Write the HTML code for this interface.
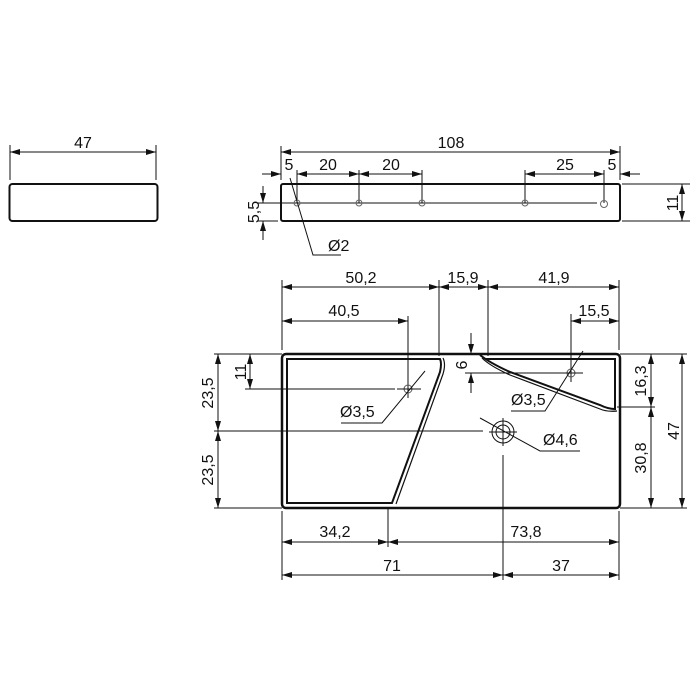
<!DOCTYPE html>
<html><head><meta charset="utf-8"><style>body{margin:0;background:#fff}svg{display:block}text{font-family:"Liberation Sans",sans-serif;font-size:16px;fill:#111}</style></head><body>
<svg width="700" height="700" viewBox="0 0 700 700" xmlns="http://www.w3.org/2000/svg">
<defs><marker id="a" viewBox="0 0 10 6" refX="10" refY="3" markerWidth="10" markerHeight="6" orient="auto-start-reverse" markerUnits="userSpaceOnUse"><path d="M0,0L10,3L0,6Z" fill="#111"/></marker></defs>
<g stroke="#111" fill="none" stroke-width="1">
<!-- left view -->
<rect x="9.5" y="184" width="148" height="37" rx="3" stroke-width="2"/>
<line x1="10" y1="145" x2="10" y2="180"/><line x1="156" y1="145" x2="156" y2="180"/>
<line x1="10" y1="152" x2="156" y2="152" marker-start="url(#a)" marker-end="url(#a)"/>
<!-- top view -->
<rect x="281" y="184" width="339" height="37" rx="2" stroke-width="2"/>
<line x1="281" y1="146" x2="281" y2="180"/><line x1="620" y1="146" x2="620" y2="180"/>
<line x1="281" y1="152" x2="620" y2="152" marker-start="url(#a)" marker-end="url(#a)"/>
<line x1="297" y1="170" x2="297" y2="203"/><line x1="359" y1="170" x2="359" y2="203"/><line x1="422" y1="170" x2="422" y2="203"/><line x1="525" y1="170" x2="525" y2="203"/><line x1="604" y1="170" x2="604" y2="203"/>
<line x1="262" y1="174" x2="281" y2="174" marker-end="url(#a)"/>
<line x1="297" y1="174" x2="359" y2="174" marker-start="url(#a)" marker-end="url(#a)"/>
<line x1="359" y1="174" x2="422" y2="174" marker-start="url(#a)" marker-end="url(#a)"/>
<line x1="525" y1="174" x2="604" y2="174" marker-start="url(#a)" marker-end="url(#a)"/>
<line x1="640" y1="174" x2="620" y2="174" marker-end="url(#a)"/>
<line x1="258" y1="203" x2="597" y2="203"/>
<g stroke="#666"><circle cx="297" cy="203" r="3"/><circle cx="359" cy="203" r="3"/><circle cx="422" cy="203" r="3"/><circle cx="525" cy="203" r="3"/><circle cx="604" cy="204" r="3.5"/></g>
<line x1="258" y1="221" x2="278" y2="221"/>
<line x1="263" y1="186" x2="263" y2="203" marker-end="url(#a)"/>
<line x1="263" y1="240" x2="263" y2="221" marker-end="url(#a)"/>
<line x1="622" y1="184" x2="690" y2="184"/><line x1="622" y1="221" x2="690" y2="221"/>
<line x1="682" y1="184" x2="682" y2="221" marker-start="url(#a)" marker-end="url(#a)"/>
<polyline points="290,178 313,255 341,255"/>
<!-- main view -->
<rect x="282" y="354" width="338" height="154" rx="4" stroke-width="2.5"/>
<path d="M287,359 H440 Q442,363 440,372 L392,503 H287 Z" stroke-width="2"/>
<path d="M443,358 Q446,364 443,374 L396,504" stroke-width="1.2"/>
<path d="M480,355 Q490,363 510,372 L600,405 Q608,409 615,409 V359 H486" stroke-width="2"/>
<path d="M482,358 Q490,366 510,375 L600,409 Q607,412 617,411" stroke-width="1.2"/>
<!-- top dims -->
<line x1="282" y1="280" x2="282" y2="350"/><line x1="439" y1="280" x2="439" y2="356"/><line x1="488" y1="280" x2="488" y2="356"/><line x1="619" y1="280" x2="619" y2="350"/>
<line x1="282" y1="287" x2="439" y2="287" marker-start="url(#a)" marker-end="url(#a)"/>
<line x1="439" y1="287" x2="488" y2="287" marker-start="url(#a)" marker-end="url(#a)"/>
<line x1="488" y1="287" x2="619" y2="287" marker-start="url(#a)" marker-end="url(#a)"/>
<line x1="408" y1="316" x2="408" y2="398"/>
<line x1="282" y1="321" x2="408" y2="321" marker-start="url(#a)" marker-end="url(#a)"/>
<line x1="571" y1="314" x2="571" y2="382"/>
<line x1="571" y1="321" x2="619" y2="321" marker-start="url(#a)" marker-end="url(#a)"/>
<!-- holes -->
<circle cx="408" cy="389" r="4" stroke="#555"/><line x1="397" y1="389" x2="421" y2="389"/>
<polyline points="425,371 382,423 341,423"/>
<circle cx="571" cy="373" r="4" stroke="#555"/><line x1="560" y1="373" x2="583" y2="373"/>
<polyline points="583,351 545,411 511,411"/>
<line x1="465" y1="373" x2="560" y2="373"/>
<line x1="471" y1="333" x2="471" y2="354" marker-end="url(#a)"/>
<line x1="471" y1="393" x2="471" y2="373" marker-end="url(#a)"/>
<circle cx="503" cy="432" r="11"/><circle cx="503" cy="432" r="7"/>
<line x1="503" y1="418" x2="503" y2="446"/><line x1="489" y1="432" x2="517" y2="432"/>
<polyline points="480,418 540,451 580,451"/>
<line x1="503" y1="455" x2="503" y2="580"/>
<!-- left dims -->
<line x1="214" y1="354" x2="282" y2="354"/><line x1="214" y1="508" x2="282" y2="508"/>
<line x1="214" y1="431" x2="483" y2="431"/>
<line x1="218" y1="354" x2="218" y2="431" marker-start="url(#a)" marker-end="url(#a)"/>
<line x1="218" y1="431" x2="218" y2="508" marker-start="url(#a)" marker-end="url(#a)"/>
<line x1="245" y1="389" x2="395" y2="389"/>
<line x1="250" y1="354" x2="250" y2="389" marker-start="url(#a)" marker-end="url(#a)"/>
<!-- right dims -->
<line x1="620" y1="354" x2="687" y2="354"/><line x1="620" y1="508" x2="687" y2="508"/>
<line x1="617" y1="407" x2="655" y2="407"/>
<line x1="651" y1="354" x2="651" y2="407" marker-start="url(#a)" marker-end="url(#a)"/>
<line x1="651" y1="407" x2="651" y2="508" marker-start="url(#a)" marker-end="url(#a)"/>
<line x1="682" y1="354" x2="682" y2="508" marker-start="url(#a)" marker-end="url(#a)"/>
<!-- bottom dims -->
<line x1="282" y1="511" x2="282" y2="580"/><line x1="619" y1="511" x2="619" y2="580"/><line x1="388" y1="508" x2="388" y2="547"/>
<line x1="282" y1="542" x2="388" y2="542" marker-start="url(#a)" marker-end="url(#a)"/>
<line x1="388" y1="542" x2="619" y2="542" marker-start="url(#a)" marker-end="url(#a)"/>
<line x1="282" y1="575" x2="503" y2="575" marker-start="url(#a)" marker-end="url(#a)"/>
<line x1="503" y1="575" x2="619" y2="575" marker-start="url(#a)" marker-end="url(#a)"/>
</g>
<text x="83" y="148" text-anchor="middle">47</text>
<text x="451" y="148" text-anchor="middle">108</text>
<text x="289" y="170" text-anchor="middle">5</text>
<text x="328" y="170" text-anchor="middle">20</text>
<text x="391" y="170" text-anchor="middle">20</text>
<text x="565" y="170" text-anchor="middle">25</text>
<text x="612" y="170" text-anchor="middle">5</text>
<text x="328" y="251">Ø2</text>
<text transform="translate(259,212) rotate(-90)" text-anchor="middle">5,5</text>
<text transform="translate(678,203) rotate(-90)" text-anchor="middle">11</text>
<text x="361" y="283" text-anchor="middle">50,2</text>
<text x="463" y="283" text-anchor="middle">15,9</text>
<text x="554" y="283" text-anchor="middle">41,9</text>
<text x="344" y="316" text-anchor="middle">40,5</text>
<text x="594" y="316" text-anchor="middle">15,5</text>
<text x="340" y="417">Ø3,5</text>
<text x="511" y="405">Ø3,5</text>
<text x="543" y="445">Ø4,6</text>
<text transform="translate(467,365) rotate(-90)" text-anchor="middle">6</text>
<text transform="translate(213,393) rotate(-90)" text-anchor="middle">23,5</text>
<text transform="translate(213,470) rotate(-90)" text-anchor="middle">23,5</text>
<text transform="translate(246,372) rotate(-90)" text-anchor="middle">11</text>
<text transform="translate(646,381) rotate(-90)" text-anchor="middle">16,3</text>
<text transform="translate(646,458) rotate(-90)" text-anchor="middle">30,8</text>
<text transform="translate(679,431) rotate(-90)" text-anchor="middle">47</text>
<text x="335" y="537" text-anchor="middle">34,2</text>
<text x="526" y="537" text-anchor="middle">73,8</text>
<text x="392" y="571" text-anchor="middle">71</text>
<text x="561" y="571" text-anchor="middle">37</text>
</svg>
</body></html>
